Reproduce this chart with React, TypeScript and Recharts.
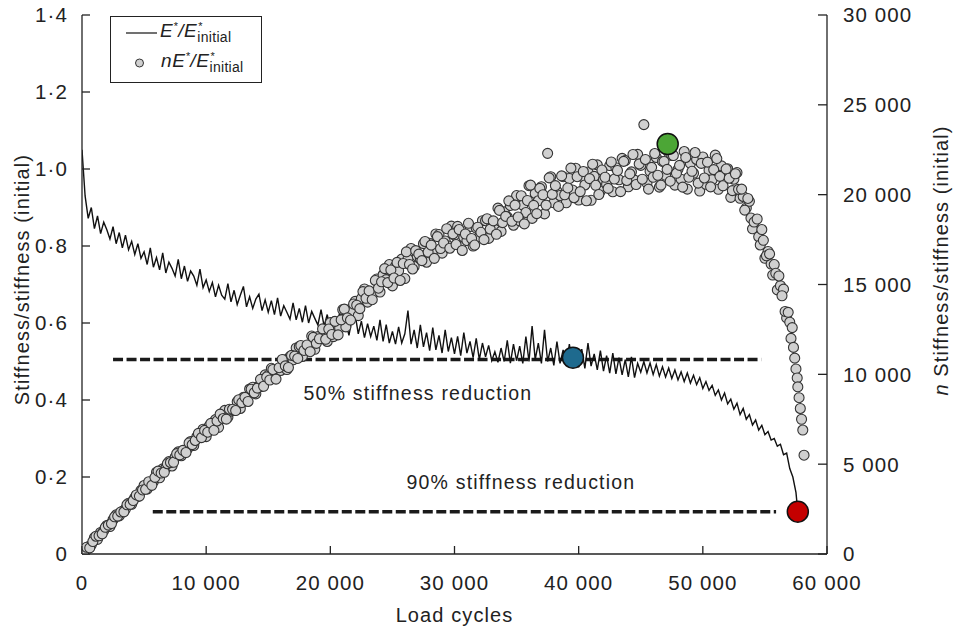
import React from 'react';
import { ComposedChart, Line, Scatter, XAxis, YAxis, ReferenceLine, ReferenceDot, Legend, Label } from 'recharts';

const FONT = '"Liberation Sans", Arial, Helvetica, sans-serif';
const INK = '#222';

const CYCLE_STEP = 250;

// E*/E*initial, one reading every 250 load cycles starting at 0
const stiffnessRatio = [
  1.05, 0.93, 0.872, 0.9, 0.845, 0.878, 0.832, 0.862, 0.842, 0.818, 0.85, 0.806, 0.835, 0.795, 0.828, 0.79, 0.812, 0.778, 0.806, 0.768,
  0.785, 0.752, 0.795, 0.745, 0.77, 0.738, 0.782, 0.73, 0.758, 0.742, 0.722, 0.765, 0.715, 0.748, 0.708, 0.735, 0.722, 0.698, 0.74, 0.692,
  0.712, 0.682, 0.705, 0.668, 0.698, 0.672, 0.662, 0.702, 0.655, 0.685, 0.648, 0.672, 0.695, 0.642, 0.668, 0.638, 0.662, 0.675, 0.632, 0.66,
  0.628, 0.658, 0.622, 0.665, 0.618, 0.645, 0.628, 0.61, 0.652, 0.608, 0.638, 0.602, 0.645, 0.6, 0.63, 0.612, 0.595, 0.635, 0.592, 0.622,
  0.585, 0.618, 0.578, 0.628, 0.58, 0.602, 0.568, 0.612, 0.622, 0.572, 0.605, 0.562, 0.598, 0.565, 0.592, 0.555, 0.608, 0.552, 0.596, 0.548,
  0.578, 0.545, 0.59, 0.548, 0.572, 0.632, 0.545, 0.582, 0.535, 0.595, 0.538, 0.575, 0.528, 0.588, 0.53, 0.568, 0.522, 0.582, 0.526, 0.562,
  0.52, 0.565, 0.515, 0.575, 0.522, 0.552, 0.51, 0.56, 0.505, 0.548, 0.512, 0.542, 0.502, 0.525, 0.498, 0.535, 0.5, 0.555, 0.496, 0.545,
  0.502, 0.54, 0.495, 0.565, 0.5, 0.592, 0.505, 0.548, 0.495, 0.582, 0.5, 0.535, 0.49, 0.552, 0.495, 0.53, 0.488, 0.545, 0.492, 0.525,
  0.485, 0.532, 0.482, 0.548, 0.488, 0.52, 0.478, 0.528, 0.475, 0.515, 0.47, 0.522, 0.468, 0.51, 0.465, 0.505, 0.46, 0.512, 0.458, 0.495,
  0.472, 0.5, 0.47, 0.496, 0.466, 0.492, 0.462, 0.486, 0.46, 0.483, 0.456, 0.478, 0.452, 0.473, 0.448, 0.47, 0.444, 0.464, 0.44, 0.458,
  0.43, 0.448, 0.425, 0.438, 0.412, 0.426, 0.4, 0.418, 0.39, 0.402, 0.376, 0.392, 0.362, 0.378, 0.35, 0.362, 0.335, 0.348, 0.322, 0.334,
  0.31, 0.318, 0.296, 0.3, 0.28, 0.285, 0.258, 0.262, 0.222, 0.2, 0.16,
];

// nE*/E*initial, one reading every 250 load cycles starting at 0
const nStiffnessRatio = [
  20, 85, 395, 510, 910, 815, 1200, 1305, 1590, 1530, 1905, 2175, 2120, 2380, 2505, 2825, 2770, 3135, 3200, 3542,
  3810, 3615, 3985, 4030, 4550, 4245, 4740, 4785, 5140, 4900, 5385, 5685, 5470, 5770, 5855, 6265, 6040, 6525, 6500, 6947,
  6535, 7130, 7095, 7480, 7050, 7645, 7995, 7610, 7950, 7985, 8475, 8100, 8715, 8620, 9182, 9280, 8915, 9345, 9330, 9970,
  9935, 10335, 9800, 10210, 10215, 10805, 10270, 10985, 10810, 11468, 11540, 10995, 11485, 11380, 12130, 11395, 12100, 11995, 12430, 11830,
  12880, 12100, 12710, 12580, 13600, 12640, 13590, 13470, 14060, 13270, 14220, 14750, 14020, 14550, 14540, 15310, 14580, 15540, 15270, 16110,
  14925, 16020, 15765, 16410, 15330, 16425, 17005, 16000, 16570, 16435, 17275, 16240, 17295, 16860, 17812, 17780, 16745, 17425, 17140, 18250,
  17755, 18235, 17150, 17630, 17445, 18225, 17140, 18145, 17660, 18552, 18550, 17565, 18305, 18070, 19250, 17955, 19040, 18765, 19400, 18300,
  19950, 18540, 19420, 19010, 20500, 18680, 20070, 19660, 20440, 18930, 22300, 21000, 19550, 20200, 19950, 21000, 19550, 20900, 20260, 21470,
  19700, 21020, 20540, 21260, 19690, 21020, 21660, 20200, 20840, 20580, 21620, 20160, 21500, 20830, 22020, 21900, 20440, 21270, 20810, 22240,
  21630, 23900, 20640, 21300, 20970, 22070, 20420, 21850, 21080, 22350, 22180, 20530, 21410, 20860, 22400, 20310, 21740, 21190, 21960, 20200,
  22100, 20580, 21360, 20830, 22200, 20300, 21600, 20950, 21440, 19850, 20860, 21230, 19800, 19900, 19260, 19630, 18100, 18600, 17660, 18060,
  16460, 16840, 16140, 16110, 14700, 14930, 14740, 13140,
];

// nE*/E*initial readings in between, every 250 load cycles starting at 125
const nStiffnessRatioMid = [
  35, 375, 340, 695, 990, 1015, 1125, 1485, 1605, 1695, 2070, 2110, 2340, 2345, 2740, 2760, 2975, 3287, 3225, 3565,
  3600, 4025, 3820, 4265, 4610, 4505, 4550, 5025, 5095, 5105, 5585, 5515, 5770, 5650, 6185, 6090, 6320, 6712, 6480, 6880,
  6780, 7270, 6885, 7405, 7785, 7540, 7505, 8060, 8055, 7985, 8585, 8425, 8720, 8490, 9170, 8975, 9235, 9722, 9335, 9850,
  9685, 10270, 9735, 10370, 10825, 10470, 10380, 11055, 11015, 10885, 11605, 11330, 11635, 11260, 12055, 11725, 11980, 12528, 11950, 12520,
  12220, 12945, 12195, 13030, 13630, 13145, 13020, 13915, 13845, 13655, 14605, 14235, 14645, 14155, 15225, 14795, 15150, 15885, 15105, 15810,
  15360, 16230, 15225, 16170, 16815, 16115, 15865, 16885, 16690, 16330, 17395, 16805, 17190, 16455, 17665, 17000, 17310, 18107, 17020, 17815,
  17225, 18060, 16895, 17810, 18405, 17560, 17195, 18190, 17905, 17495, 18660, 18080, 18540, 17795, 19125, 18445, 18790, 19655, 18520, 19420,
  18755, 19940, 18375, 19675, 20530, 19405, 18945, 20350, 19995, 19420, 20935, 20015, 20505, 19345, 21045, 19995, 20375, 21475, 19830, 21000,
  20170, 21290, 19660, 20895, 21695, 20520, 20010, 21370, 20970, 20350, 21820, 20870, 21345, 20170, 21855, 20790, 21155, 22235, 20565, 21710,
  20860, 21960, 20310, 21520, 22290, 21080, 20530, 21850, 21410, 20750, 22180, 21190, 21630, 20420, 22070, 20970, 21300, 22345, 20640, 21740,
  20930, 21810, 20435, 21395, 22010, 21020, 20495, 21425, 20915, 20225, 21165, 20295, 20310, 19140, 19790, 18700, 18475, 18645, 17200, 17460,
  16600, 16700, 15525, 15625, 15475, 14375, 13500, 13450,
];

// final nE*/E*initial readings close to failure: [cycles, value]
const nStiffnessTail = [
  [57000, 12900], [57100, 12000], [57200, 12600], [57300, 11500], [57400, 10900], [57500, 10300], [57600, 9800],
  [57650, 9300], [57750, 8700], [57850, 8100], [57950, 7500], [58050, 6900], [58150, 5500],
];

const peakPoints = [{ cycles: 47170, nStiffness: 22820 }];
const halfStiffnessPoints = [{ cycles: 39540, stiffness: 0.51 }];
const failurePoints = [{ cycles: 57650, stiffness: 0.11 }];

// dashed threshold lines: [start cycles, end cycles, ratio]
const halfReduction = [2500, 54700, 0.505];
const ninetyReduction = [5700, 55900, 0.11];

const xTicks = [0, 10000, 20000, 30000, 40000, 50000, 60000];
const leftTicks = [0, 0.2, 0.4, 0.6, 0.8, 1.0, 1.2, 1.4];
const rightTicks = [0, 5000, 10000, 15000, 20000, 25000, 30000];

const lineData = [...stiffnessRatio.map((v, i) => ({ cycles: i * CYCLE_STEP, stiffness: v })), ...failurePoints];
const scatterData = [
  ...nStiffnessRatio.map((v, i) => ({ cycles: i * CYCLE_STEP, nStiffness: v })),
  ...nStiffnessRatioMid.map((v, i) => ({ cycles: i * CYCLE_STEP + CYCLE_STEP / 2, nStiffness: v })),
  ...nStiffnessTail.map(([c, v]) => ({ cycles: c, nStiffness: v })),
];

const fmtThousands = (v: number) => (v < 1000 ? String(v) : `${Math.floor(v / 1000)} ${String(v % 1000).padStart(3, '0')}`);
const fmtRatio = (v: number) => (v === 0 ? '0' : v.toFixed(1).replace('.', '·'));

const tickStyle = { fontFamily: FONT, fontSize: 20.5, fill: INK, letterSpacing: 1.1 };
const noteStyle = { fontFamily: FONT, fontSize: 19.5, fill: INK, letterSpacing: 1.2 };
const titleStyle = { fontFamily: FONT, fontSize: 20, fill: INK, letterSpacing: 1.1 };

const XTick = (props: any) => {
  const { x, y, payload } = props;
  return (
    <g>
      <line x1={x} y1={y} x2={x} y2={y - 8} stroke={INK} strokeWidth={1.3} />
      <text x={x} y={y + 36} textAnchor="middle" style={tickStyle}>{fmtThousands(payload.value)}</text>
    </g>
  );
};

const LeftTick = (props: any) => {
  const { x, y, payload } = props;
  return (
    <g>
      <line x1={x} y1={y} x2={x + 8} y2={y} stroke={INK} strokeWidth={1.3} />
      <text x={x - 14} y={y} dy="0.36em" textAnchor="end" style={tickStyle}>{fmtRatio(payload.value)}</text>
    </g>
  );
};

const RightTick = (props: any) => {
  const { x, y, payload } = props;
  return (
    <g>
      <line x1={x} y1={y} x2={x - 9} y2={y} stroke={INK} strokeWidth={1.3} />
      <text x={x + 16} y={y} dy="0.36em" textAnchor="start" style={tickStyle}>{fmtThousands(payload.value)}</text>
    </g>
  );
};

const smallDot = (props: any) => (
  <circle cx={props.cx} cy={props.cy} r={5} fill="#d0d0d0" stroke="#333" strokeWidth={1.1} />
);

const bigDot = (color: string) => (props: any) => (
  <circle cx={props.cx} cy={props.cy} r={10.5} fill={color} stroke="#111" strokeWidth={1.5} />
);

const RatioLabel = ({ prefix }: { prefix: string }) => (
  <div style={{ fontFamily: FONT, fontSize: 19, fontStyle: 'italic', color: INK, whiteSpace: 'nowrap', lineHeight: '24px', letterSpacing: 0.6 }}>
    {prefix}E<span style={{ fontSize: 11, position: 'relative', top: -7 }}>*</span>/E
    <span style={{ position: 'relative', display: 'inline-block', fontStyle: 'normal', fontSize: 14, top: 5, letterSpacing: 0.3 }}>
      initial
      <span style={{ position: 'absolute', left: 1, top: -11, fontSize: 11 }}>*</span>
    </span>
  </div>
);

const LegendBox = () => (
  <div style={{ width: 152, height: 67, border: `1.5px solid ${INK}`, boxSizing: 'border-box', background: '#fff', position: 'relative' }}>
    <svg width={149} height={64} style={{ position: 'absolute', left: 0, top: 0 }}>
      <line x1={15} y1={16} x2={46} y2={16} stroke="#111" strokeWidth={1.2} />
      <circle cx={28.5} cy={46} r={4} fill="#d0d0d0" stroke="#333" strokeWidth={1} />
    </svg>
    <div style={{ position: 'absolute', left: 49, top: 2 }}><RatioLabel prefix="" /></div>
    <div style={{ position: 'absolute', left: 50, top: 32 }}><RatioLabel prefix="n" /></div>
  </div>
);

export default function App() {
  return (
    <div style={{ position: 'absolute', left: 0, top: 0, width: 955, height: 629, background: '#fff' }}>
      <ComposedChart width={955} height={629} margin={{ top: 15, right: 0, bottom: 0, left: 0 }}>
        <XAxis
          type="number"
          dataKey="cycles"
          domain={[0, 60000]}
          ticks={xTicks}
          interval={0}
          height={75}
          tickSize={0}
          tickMargin={0}
          tickLine={false}
          tick={(p: any) => <XTick {...p} />}
          axisLine={{ stroke: INK, strokeWidth: 1.3 }}
          allowDataOverflow
        >
          <Label
            content={({ viewBox }: any) => (
              <text x={viewBox.x + viewBox.width / 2} y={viewBox.y + 68} textAnchor="middle" style={titleStyle}>Load cycles</text>
            )}
          />
        </XAxis>
        <YAxis
          yAxisId="left"
          orientation="left"
          dataKey="stiffness"
          width={82}
          domain={[0, 1.4]}
          ticks={leftTicks}
          interval={0}
          tickSize={0}
          tickMargin={0}
          tickLine={false}
          tick={(p: any) => <LeftTick {...p} />}
          axisLine={{ stroke: INK, strokeWidth: 1.3 }}
          allowDataOverflow
        >
          <Label
            content={({ viewBox }: any) => {
              const x = viewBox.x + 29;
              const y = viewBox.y + viewBox.height / 2 - 5;
              return (
                <text x={x} y={y} transform={`rotate(-90, ${x}, ${y})`} textAnchor="middle" style={titleStyle}>
                  Stiffness/stiffness (initial)
                </text>
              );
            }}
          />
        </YAxis>
        <YAxis
          yAxisId="right"
          orientation="right"
          dataKey="nStiffness"
          width={128}
          domain={[0, 30000]}
          ticks={rightTicks}
          interval={0}
          tickSize={0}
          tickMargin={0}
          tickLine={false}
          tick={(p: any) => <RightTick {...p} />}
          axisLine={{ stroke: INK, strokeWidth: 1.3 }}
          allowDataOverflow
        >
          <Label
            content={({ viewBox }: any) => {
              const x = viewBox.x + 121;
              const y = viewBox.y + viewBox.height / 2 - 24;
              return (
                <text x={x} y={y} transform={`rotate(-90, ${x}, ${y})`} textAnchor="middle" style={titleStyle}>
                  <tspan fontStyle="italic">n</tspan> Stiffness/stiffness (initial)
                </text>
              );
            }}
          />
        </YAxis>

        <ReferenceLine
          yAxisId="left"
          segment={[{ x: halfReduction[0], y: halfReduction[2] }, { x: halfReduction[1], y: halfReduction[2] }]}
          stroke="#1a1a1a"
          strokeWidth={3.5}
          strokeDasharray="10 3.5"
        />
        <ReferenceLine
          yAxisId="left"
          segment={[{ x: ninetyReduction[0], y: ninetyReduction[2] }, { x: ninetyReduction[1], y: ninetyReduction[2] }]}
          stroke="#1a1a1a"
          strokeWidth={3.5}
          strokeDasharray="10 3.5"
        />
        <ReferenceDot
          yAxisId="left"
          x={27060}
          y={0.418}
          r={0}
          fill="none"
          stroke="none"
          label={{ value: '50% stiffness reduction', position: 'center', style: noteStyle }}
        />
        <ReferenceDot
          yAxisId="left"
          x={35350}
          y={0.187}
          r={0}
          fill="none"
          stroke="none"
          label={{ value: '90% stiffness reduction', position: 'center', style: noteStyle }}
        />

        <Scatter
          yAxisId="right"
          data={scatterData}
          dataKey="nStiffness"
          shape={smallDot}
          isAnimationActive={false}
        />
        <Line
          yAxisId="left"
          data={lineData}
          dataKey="stiffness"
          type="linear"
          stroke="#111"
          strokeWidth={1.4}
          dot={false}
          activeDot={false}
          isAnimationActive={false}
        />
        <Scatter yAxisId="right" data={peakPoints} dataKey="nStiffness" shape={bigDot('#4ca636')} isAnimationActive={false} />
        <Scatter yAxisId="left" data={halfStiffnessPoints} dataKey="stiffness" shape={bigDot('#1e6a8e')} isAnimationActive={false} />
        <Scatter yAxisId="left" data={failurePoints} dataKey="stiffness" shape={bigDot('#c40000')} isAnimationActive={false} />

        <Legend
          layout="vertical"
          align="center"
          verticalAlign="middle"
          wrapperStyle={{ left: 110, top: 16, width: 152, height: 67 }}
          content={() => <LegendBox />}
        />
      </ComposedChart>
    </div>
  );
}
